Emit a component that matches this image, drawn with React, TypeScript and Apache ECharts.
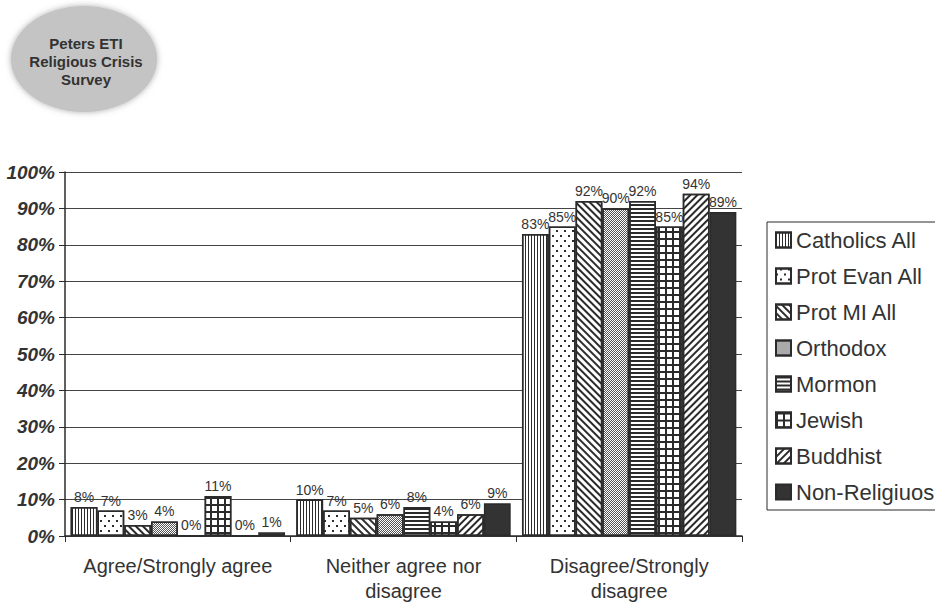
import React, { useEffect, useRef } from 'react';
import * as echarts from 'echarts';

const categories = ['Agree/Strongly agree', 'Neither agree nor\ndisagree', 'Disagree/Strongly\ndisagree'];
const seriesNames = ['Catholics All', 'Prot Evan All', 'Prot MI All', 'Orthodox', 'Mormon', 'Jewish', 'Buddhist', 'Non-Religiuos'];
const catholicsAll = [8, 10, 83];
const protEvanAll = [7, 7, 85];
const protMIAll = [3, 5, 92];
const orthodox = [4, 6, 90];
const mormon = [0, 8, 92];
const jewish = [11, 4, 85];
const buddhist = [0, 6, 94];
const nonReligious = [1, 9, 89];
const seriesValues = [catholicsAll, protEvanAll, protMIAll, orthodox, mormon, jewish, buddhist, nonReligious];
const logoLines = ['Peters ETI', 'Religious Crisis', 'Survey'];

const INK = '#2b2b2b';
const FONT = 'Liberation Sans, Arial, sans-serif';

const decals: any[] = [
  { symbol: 'rect', symbolSize: 1, color: INK, dashArrayX: [1, 2], dashArrayY: [4, 0] },
  { symbol: 'rect', symbolSize: 1, color: INK, dashArrayX: [[2, 6], [0, 4, 2, 2]], dashArrayY: [2, 3] },
  { symbol: 'rect', symbolSize: 1, color: INK, dashArrayX: [8, 0], dashArrayY: [2, 3], rotation: Math.PI / 4 },
  { symbol: 'rect', symbolSize: 1, color: '#555', dashArrayX: [[1, 1], [0, 1, 1, 0]], dashArrayY: [1, 0] },
  { symbol: 'rect', symbolSize: 1, color: INK, dashArrayX: [8, 0], dashArrayY: [2, 2] },
  { symbol: 'rect', symbolSize: 1, color: INK, dashArrayX: [[7, 0], [2, 5]], dashArrayY: [2, 0, 5, 0] },
  { symbol: 'rect', symbolSize: 1, color: INK, dashArrayX: [8, 0], dashArrayY: [2, 3], rotation: -Math.PI / 4 },
  null,
];

export default function App() {
  const ref = useRef<HTMLDivElement>(null);
  useEffect(() => {
    document.body.style.margin = '0';
    const chart = echarts.init(ref.current!, undefined, { renderer: 'svg' });
    const series = seriesNames.map((name, i) => ({
      name,
      type: 'bar',
      data: seriesValues[i],
      barGap: '0%',
      barCategoryGap: '5%',
      itemStyle: {
        color: i === 7 ? '#333333' : '#ffffff',
        borderColor: INK,
        borderWidth: 1.5,
        decal: decals[i] || undefined,
      },
      label: {
        show: true,
        position: 'top',
        distance: 3,
        formatter: '{c}%',
        fontFamily: FONT,
        fontSize: 14,
        color: '#333',
      },
    }));
    chart.setOption({
      animation: false,
      backgroundColor: '#ffffff',
      grid: { left: 65, right: 193, top: 172, bottom: 78 },
      legend: {
        orient: 'vertical',
        left: 767,
        top: 222,
        icon: 'rect',
        itemWidth: 15,
        itemHeight: 15,
        itemGap: 14,
        padding: [7, 8, 7, 8],
        borderColor: INK,
        borderWidth: 1,
        textStyle: { fontFamily: FONT, fontSize: 22, color: '#333' },
        data: seriesNames,
      },
      xAxis: {
        type: 'category',
        data: categories,
        axisLine: { lineStyle: { color: INK, width: 1.5 } },
        axisTick: { show: true, length: 6, lineStyle: { color: INK } },
        axisLabel: {
          interval: 0,
          hideOverlap: false,
          margin: 17,
          fontFamily: FONT,
          fontSize: 20,
          lineHeight: 25,
          color: '#333',
        },
      },
      yAxis: {
        type: 'value',
        min: 0,
        max: 100,
        interval: 10,
        axisLine: { show: true, lineStyle: { color: INK, width: 1.5 } },
        axisTick: { show: true, length: 6, lineStyle: { color: INK } },
        splitLine: { lineStyle: { color: '#444', width: 1 } },
        axisLabel: {
          formatter: '{value}%',
          margin: 10,
          fontFamily: FONT,
          fontSize: 19,
          fontWeight: 'bold',
          fontStyle: 'italic',
          color: '#333',
        },
      },
      graphic: [
        {
          type: 'ellipse',
          shape: { cx: 84, cy: 59, rx: 73, ry: 53 },
          style: { fill: '#c4c4c4', shadowBlur: 6, shadowColor: 'rgba(120,120,120,0.6)' },
        },
        ...logoLines.map((t, i) => ({
          type: 'text',
          x: 86,
          y: 43 + i * 18,
          style: {
            text: t,
            align: 'center',
            verticalAlign: 'middle',
            fontFamily: 'Liberation Sans Narrow, Arial Narrow, Liberation Sans, sans-serif',
            fontWeight: 'bold',
            fontSize: 15,
            fill: '#333',
          },
        })),
      ],
      series,
    });
    return () => chart.dispose();
  }, []);
  return <div ref={ref} style={{ width: 935, height: 614 }} />;
}
